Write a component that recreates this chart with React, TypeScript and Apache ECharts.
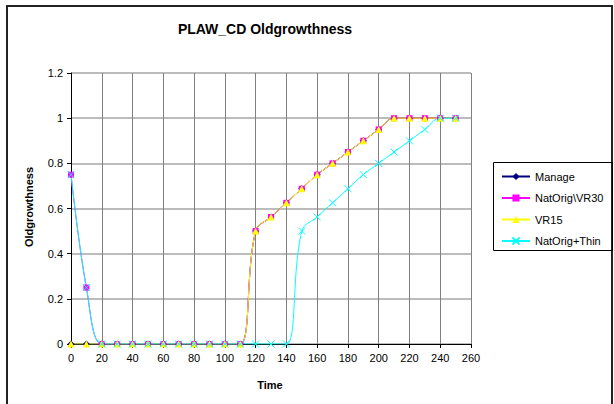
import React, { useEffect, useRef } from "react";
import * as echarts from "echarts";

const times = [0, 10, 20, 30, 40, 50, 60, 70, 80, 90, 100, 110, 120, 130, 140, 150, 160, 170, 180, 190, 200, 210, 220, 230, 240, 250];
const manage = [0, 0, 0, 0, 0, 0, 0, 0, 0, 0, 0, 0, 0.5, 0.5625, 0.625, 0.6875, 0.75, 0.8, 0.85, 0.9, 0.95, 1, 1, 1, 1, 1];
const natOrigVR30 = [0.75, 0.25, 0, 0, 0, 0, 0, 0, 0, 0, 0, 0, 0.5, 0.5625, 0.625, 0.6875, 0.75, 0.8, 0.85, 0.9, 0.95, 1, 1, 1, 1, 1];
const vr15 = [0, 0, 0, 0, 0, 0, 0, 0, 0, 0, 0, 0, 0.5, 0.5625, 0.625, 0.6875, 0.75, 0.8, 0.85, 0.9, 0.95, 1, 1, 1, 1, 1];
const natOrigThin = [0.75, 0.25, 0, 0, 0, 0, 0, 0, 0, 0, 0, 0, 0, 0, 0, 0.5, 0.5625, 0.625, 0.6875, 0.75, 0.8, 0.85, 0.9, 0.95, 1, 1];
const seriesNames = ["Manage", "NatOrig\\VR30", "VR15", "NatOrig+Thin"];
const titleText = "PLAW_CD Oldgrowthness";
const xTitle = "Time";
const yTitle = "Oldgrowthness";

const FONT = "'Liberation Sans', Arial, sans-serif";

const pair = (vals: number[]) => times.map((t, i) => [t, vals[i]]);

export default function App() {
  const ref = useRef<HTMLDivElement>(null);
  useEffect(() => {
    if (!ref.current) return;
    const chart = echarts.init(ref.current, null, { renderer: "svg" });
    const mk = (name: string, data: number[], color: string, symbol: string, size: number, extra: any = {}) => ({
      name,
      type: "line",
      data: pair(data),
      smooth: 0.4,
      symbol,
      symbolSize: size,
      showAllSymbol: true,
      lineStyle: { color, width: 1 },
      itemStyle: { color, borderColor: color, borderWidth: extra.borderWidth ?? 0 },
      emphasis: { disabled: true },
    });
    chart.setOption({
      animation: false,
      backgroundColor: "#ffffff",
      textStyle: { fontFamily: FONT },
      grid: { left: 71, right: 143, top: 73, bottom: 60, containLabel: false },
      legend: {
        orient: "vertical",
        left: 496,
        top: 166,
        itemWidth: 28,
        itemHeight: 9,
        itemGap: 10.5,
        textStyle: { fontFamily: FONT, fontSize: 11, color: "#000" },
        data: seriesNames,
      },
      xAxis: {
        type: "value",
        min: 0,
        max: 260,
        interval: 20,
        axisLine: { show: true, onZero: false, lineStyle: { color: "#000", width: 1 } },
        axisTick: { show: true, length: 4, lineStyle: { color: "#000" } },
        axisLabel: { fontFamily: FONT, fontSize: 11, color: "#000", margin: 8 },
        splitLine: { show: true, lineStyle: { color: "#808080", width: 1 } },
      },
      yAxis: {
        type: "value",
        min: 0,
        max: 1.2,
        interval: 0.2,
        axisLine: { show: true, lineStyle: { color: "#000", width: 1 } },
        axisTick: { show: true, length: 4, lineStyle: { color: "#000" } },
        axisLabel: { fontFamily: FONT, fontSize: 11, color: "#000", margin: 8 },
        splitLine: { show: true, lineStyle: { color: "#a6a6a6", width: 1.5 } },
      },
      graphic: [
        {
          type: "rect",
          shape: { x: 7, y: 6, width: 605, height: 420 },
          style: { fill: "none", stroke: "#222", lineWidth: 2 },
          silent: true,
          z: 0,
        },
        {
          type: "rect",
          shape: { x: 493.5, y: 162.5, width: 119, height: 88 },
          style: { fill: "none", stroke: "#000", lineWidth: 1 },
          silent: true,
        },
        {
          type: "text",
          x: 265,
          y: 29,
          style: { text: titleText, font: `bold 14px ${FONT}`, fill: "#000", textAlign: "center", textVerticalAlign: "middle" },
        },
        {
          type: "text",
          x: 270,
          y: 385,
          style: { text: xTitle, font: `bold 11px ${FONT}`, fill: "#000", textAlign: "center", textVerticalAlign: "middle" },
        },
        {
          type: "text",
          x: 29,
          y: 207,
          rotation: Math.PI / 2,
          style: { text: yTitle, font: `bold 11px ${FONT}`, fill: "#000", textAlign: "center", textVerticalAlign: "middle" },
        },
      ],
      series: [
        mk(seriesNames[0], manage, "#000080", "diamond", 7),
        mk(seriesNames[1], natOrigVR30, "#FF00FF", "rect", 6),
        mk(seriesNames[2], vr15, "#FFFF00", "triangle", 7),
        mk(seriesNames[3], natOrigThin, "#00FFFF", "path://M0,0L10,10M10,0L0,10", 7, { borderWidth: 1 }),
      ],
    });
    return () => chart.dispose();
  }, []);
  return <div ref={ref} style={{ position: "absolute", left: 0, top: 0, width: 614, height: 404 }} />;
}
